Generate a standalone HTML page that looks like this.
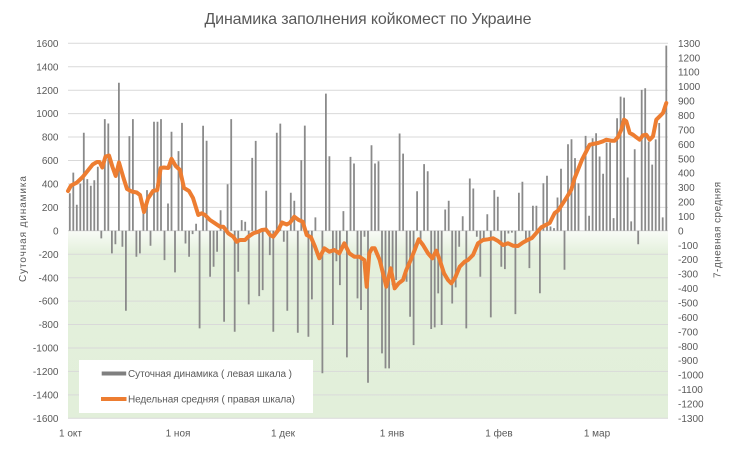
<!DOCTYPE html>
<html><head><meta charset="utf-8"><style>
html,body{margin:0;padding:0;background:#fff;}
svg{display:block;}
text{font-family:"Liberation Sans","DejaVu Sans",sans-serif;fill:#595959;}
</style></head><body>
<svg width="740" height="461" viewBox="0 0 740 461" xmlns="http://www.w3.org/2000/svg">
<defs>
<linearGradient id="g" x1="0" y1="0" x2="0" y2="1">
<stop offset="0" stop-color="#f8fbf6"/>
<stop offset="0.12" stop-color="#e4f0dc"/>
<stop offset="1" stop-color="#e2efda"/>
</linearGradient>
</defs>
<rect width="740" height="461" fill="#fff"/>
<text x="368" y="24" font-size="16" text-anchor="middle" textLength="327">Динамика заполнения койкомест по Украине</text>
<rect x="68" y="231" width="600" height="187.3" fill="url(#g)"/>
<g stroke="#d9d9d9" stroke-width="1">
<path d="M68 43.3H668M68 66.7H668M68 90.2H668M68 113.6H668M68 137H668M68 160.5H668M68 183.9H668M68 207.4H668M68 230.8H668M68 254.2H668M68 277.7H668M68 301.1H668M68 324.5H668M68 348H668M68 371.4H668M68 394.9H668M68 418.3H668"/>
</g>
<path stroke="#8a8a8a" stroke-width="1.8" fill="none" d="M69.8 230.8V193.2M73.3 230.8V172.6M76.8 230.8V204.8M80.3 230.8V183.5M83.8 230.8V132.8M87.3 230.8V179.1M90.8 230.8V185.8M94.3 230.8V180.2M97.8 230.8V166.8M101.3 230.8V238.4M104.8 230.8V119.1M108.3 230.8V123.5M111.9 230.8V253.4M115.4 230.8V244.2M118.9 230.8V82.8M122.4 230.8V246.7M125.9 230.8V310.7M129.4 230.8V136.1M132.9 230.8V119.1M136.4 230.8V256.8M139.9 230.8V253.4M143.4 230.8V213.2M147.0 230.8V190.1M150.5 230.8V245.8M154.0 230.8V121.8M157.5 230.8V121.8M161.0 230.8V119.1M164.5 230.8V260.1M168.0 230.8V203.5M171.5 230.8V131.8M175.0 230.8V272.4M178.5 230.8V151.1M182.0 230.8V122.9M185.5 230.8V243.5M189.1 230.8V256.8M192.6 230.8V234.1M196.1 230.8V223.8M199.6 230.8V328.4M203.1 230.8V125.8M206.6 230.8V140.8M210.1 230.8V276.7M213.6 230.8V266.8M217.1 230.8V251.8M220.6 230.8V210.2M224.1 230.8V321.7M227.6 230.8V184.2M231.2 230.8V119.1M234.7 230.8V331.7M238.2 230.8V271.8M241.7 230.8V220.1M245.2 230.8V221.8M248.7 230.8V304.4M252.2 230.8V157.9M255.7 230.8V140.9M259.2 230.8V296.1M262.7 230.8V290.1M266.2 230.8V190.8M269.8 230.8V255.1M273.3 230.8V331.7M276.8 230.8V132.8M280.3 230.8V123.6M283.8 230.8V241.8M287.3 230.8V310.7M290.8 230.8V192.8M294.3 230.8V200.8M297.8 230.8V332.8M301.3 230.8V160.1M304.8 230.8V125.6M308.4 230.8V336.7M311.9 230.8V299.4M315.4 230.8V217.4M322.4 230.8V373.3M325.9 230.8V93.6M329.4 230.8V156.2M332.9 230.8V325.0M336.4 230.8V261.3M339.9 230.8V285.1M343.4 230.8V211.1M346.9 230.8V357.4M350.5 230.8V156.9M354.0 230.8V163.5M357.5 230.8V298.4M361.0 230.8V310.0M364.5 230.8V236.7M368.0 230.8V382.7M371.5 230.8V145.3M375.0 230.8V163.5M378.5 230.8V161.2M382.0 230.8V353.4M385.5 230.8V368.4M389.1 230.8V368.4M392.6 230.8V285.1M396.1 230.8V280.0M399.6 230.8V133.5M403.1 230.8V153.6M406.6 230.8V281.8M410.1 230.8V316.7M413.6 230.8V345.1M417.1 230.8V191.2M420.6 230.8V240.2M424.1 230.8V164.1M427.7 230.8V171.2M431.2 230.8V329.0M434.7 230.8V327.4M438.2 230.8V293.4M441.7 230.8V325.0M445.2 230.8V209.5M448.7 230.8V200.8M452.2 230.8V303.5M455.7 230.8V287.4M459.2 230.8V246.7M462.7 230.8V216.2M466.3 230.8V328.4M469.8 230.8V178.5M473.3 230.8V188.5M476.8 230.8V236.8M480.3 230.8V276.7M483.8 230.8V238.4M487.3 230.8V214.2M490.8 230.8V317.4M494.3 230.8V190.1M497.8 230.8V196.8M501.3 230.8V266.8M504.9 230.8V269.1M508.4 230.8V233.5M511.9 230.8V232.6M515.4 230.8V314.1M518.9 230.8V192.8M522.4 230.8V181.8M525.9 230.8V242.5M529.4 230.8V268.1M532.9 230.8V205.8M536.4 230.8V205.8M539.9 230.8V293.3M543.4 230.8V183.2M547.0 230.8V175.8M550.5 230.8V226.5M554.0 230.8V228.1M557.5 230.8V197.5M561.0 230.8V168.8M564.5 230.8V269.8M568.0 230.8V144.2M571.5 230.8V139.2M575.0 230.8V158.1M578.5 230.8V183.2M585.6 230.8V135.9M589.1 230.8V215.8M592.6 230.8V138.2M596.1 230.8V133.2M599.6 230.8V156.5M603.1 230.8V173.8M606.6 230.8V142.6M610.1 230.8V142.6M613.6 230.8V218.1M617.1 230.8V118.2M620.6 230.8V96.6M624.1 230.8V97.6M627.7 230.8V177.5M631.2 230.8V221.4M634.7 230.8V149.2M638.2 230.8V244.2M641.7 230.8V89.9M645.2 230.8V88.3M648.7 230.8V141.7M652.2 230.8V164.6M655.7 230.8V139.4M659.2 230.8V123.0M662.7 230.8V217.4M666.3 230.8V45.6"/>
<polyline fill="none" stroke="#ed7d31" stroke-width="4" stroke-linejoin="round" stroke-linecap="round" points="68,191 71,185.5 76.7,182.7 82.7,177 88.3,170 92.7,164.5 97,162 99.5,162 102.3,167.5 105.5,156.5 109,155.5 112.5,167 115.7,176 119,162.5 123.5,178 127,189 131.7,191.5 136.7,192.5 140,195 144,212 148,198.5 153,191 157.3,190 160.7,168 164,167.5 168.3,168 171.5,158.8 175.7,166 180,170 184,188 189,191 193,198 198.3,215 201.7,213.3 205,215 210,220 215,223.3 220,226.7 223.3,226.7 228.3,233.3 233.3,236.7 236.7,241.7 240,240 245,240 248.3,236.7 253.3,233.3 258.3,231.7 261.7,230 266,229.5 270,235 273.3,236.7 278.3,230 282,222.5 286.7,224.5 290,222.7 294.3,216.7 298.7,220 302.7,221.7 306.7,235 311,237.3 315,246.7 319.3,258.3 324.3,248.3 329.3,251.7 334.3,250 339.3,253.3 344.3,243.3 349.3,253.3 354.3,256.7 359.3,256.7 364.3,260 366.7,286.7 369.3,253.3 372,248.3 374.7,248.3 379.7,260 383,273.3 386.3,286.7 390.7,268.3 394.7,288.3 398.7,283.3 403,280 406.3,270 410.7,260 414.7,250 418.7,239.3 423,245 428,253.3 432.3,258.3 436.3,250.7 439.7,260 444,273.3 448,280 451.3,283.3 455.3,277.3 459.7,266.7 464.7,261.7 468,260 473,255 478,243.3 483,240 488,239.3 493,238.3 498,241 503,245 508,243.3 513,245.7 518,246 523,242.5 528,239.7 532,238 536.3,233 541.3,227.3 546.3,224.7 549.7,223 554.7,213 558,210.7 562,204.7 566.3,198 571.3,189.7 574.7,178 578,169.7 582,159.7 586.3,151.3 589.7,144.7 593,144 598,143 603,141.3 606.3,139.7 611.3,140.7 614.7,140.7 618,137 621.3,129.7 624,119.7 626.3,121.3 629.7,133 633,134.7 636.3,137.3 639.7,139.7 643,135.3 646.3,134.7 649.7,139.7 653,136.3 656.3,119.7 659.7,116.3 663,113 666.3,103"/>
<g font-size="10" text-anchor="end">
<text x="58.5" y="46.9">1600</text>
<text x="58.5" y="70.3">1400</text>
<text x="58.5" y="93.8">1200</text>
<text x="58.5" y="117.2">1000</text>
<text x="58.5" y="140.6">800</text>
<text x="58.5" y="164.1">600</text>
<text x="58.5" y="187.5">400</text>
<text x="58.5" y="211">200</text>
<text x="58.5" y="234.4">0</text>
<text x="58.5" y="257.8">-200</text>
<text x="58.5" y="281.3">-400</text>
<text x="58.5" y="304.7">-600</text>
<text x="58.5" y="328.1">-800</text>
<text x="58.5" y="351.6">-1000</text>
<text x="58.5" y="375">-1200</text>
<text x="58.5" y="398.5">-1400</text>
<text x="58.5" y="421.9">-1600</text>
</g>
<g font-size="10" text-anchor="start">
<text x="678" y="46.9">1300</text>
<text x="678" y="61.3">1200</text>
<text x="678" y="75.7">1100</text>
<text x="678" y="90.2">1000</text>
<text x="678" y="104.6">900</text>
<text x="678" y="119">800</text>
<text x="678" y="133.4">700</text>
<text x="678" y="147.9">600</text>
<text x="678" y="162.3">500</text>
<text x="678" y="176.7">400</text>
<text x="678" y="191.1">300</text>
<text x="678" y="205.6">200</text>
<text x="678" y="220">100</text>
<text x="678" y="234.4">0</text>
<text x="678" y="248.8">-100</text>
<text x="678" y="263.2">-200</text>
<text x="678" y="277.7">-300</text>
<text x="678" y="292.1">-400</text>
<text x="678" y="306.5">-500</text>
<text x="678" y="320.9">-600</text>
<text x="678" y="335.4">-700</text>
<text x="678" y="349.8">-800</text>
<text x="678" y="364.2">-900</text>
<text x="678" y="378.6">-1000</text>
<text x="678" y="393.1">-1100</text>
<text x="678" y="407.5">-1200</text>
<text x="678" y="421.9">-1300</text>
</g>
<g font-size="10" text-anchor="middle">
<text x="70.5" y="436.5">1 окт</text>
<text x="178" y="436.5">1 ноя</text>
<text x="283" y="436.5">1 дек</text>
<text x="392" y="436.5">1 янв</text>
<text x="499" y="436.5">1 фев</text>
<text x="597" y="436.5">1 мар</text>
</g>
<text font-size="10" text-anchor="middle" transform="translate(26,229) rotate(-90)" textLength="106">Суточная динамика</text>
<text font-size="10" text-anchor="middle" transform="translate(720.5,230) rotate(-90)" textLength="96">7-дневная средняя</text>
<rect x="79" y="360" width="234" height="53" fill="#fff"/>
<rect x="101.7" y="371.5" width="24.5" height="4" fill="#7f7f7f"/>
<text x="128" y="377" font-size="10" textLength="164">Суточная динамика ( левая шкала )</text>
<line x1="101" y1="399" x2="126.5" y2="399" stroke="#ed7d31" stroke-width="4"/>
<text x="128" y="402.6" font-size="10" textLength="167">Недельная средняя ( правая шкала)</text>
</svg>
</body></html>
